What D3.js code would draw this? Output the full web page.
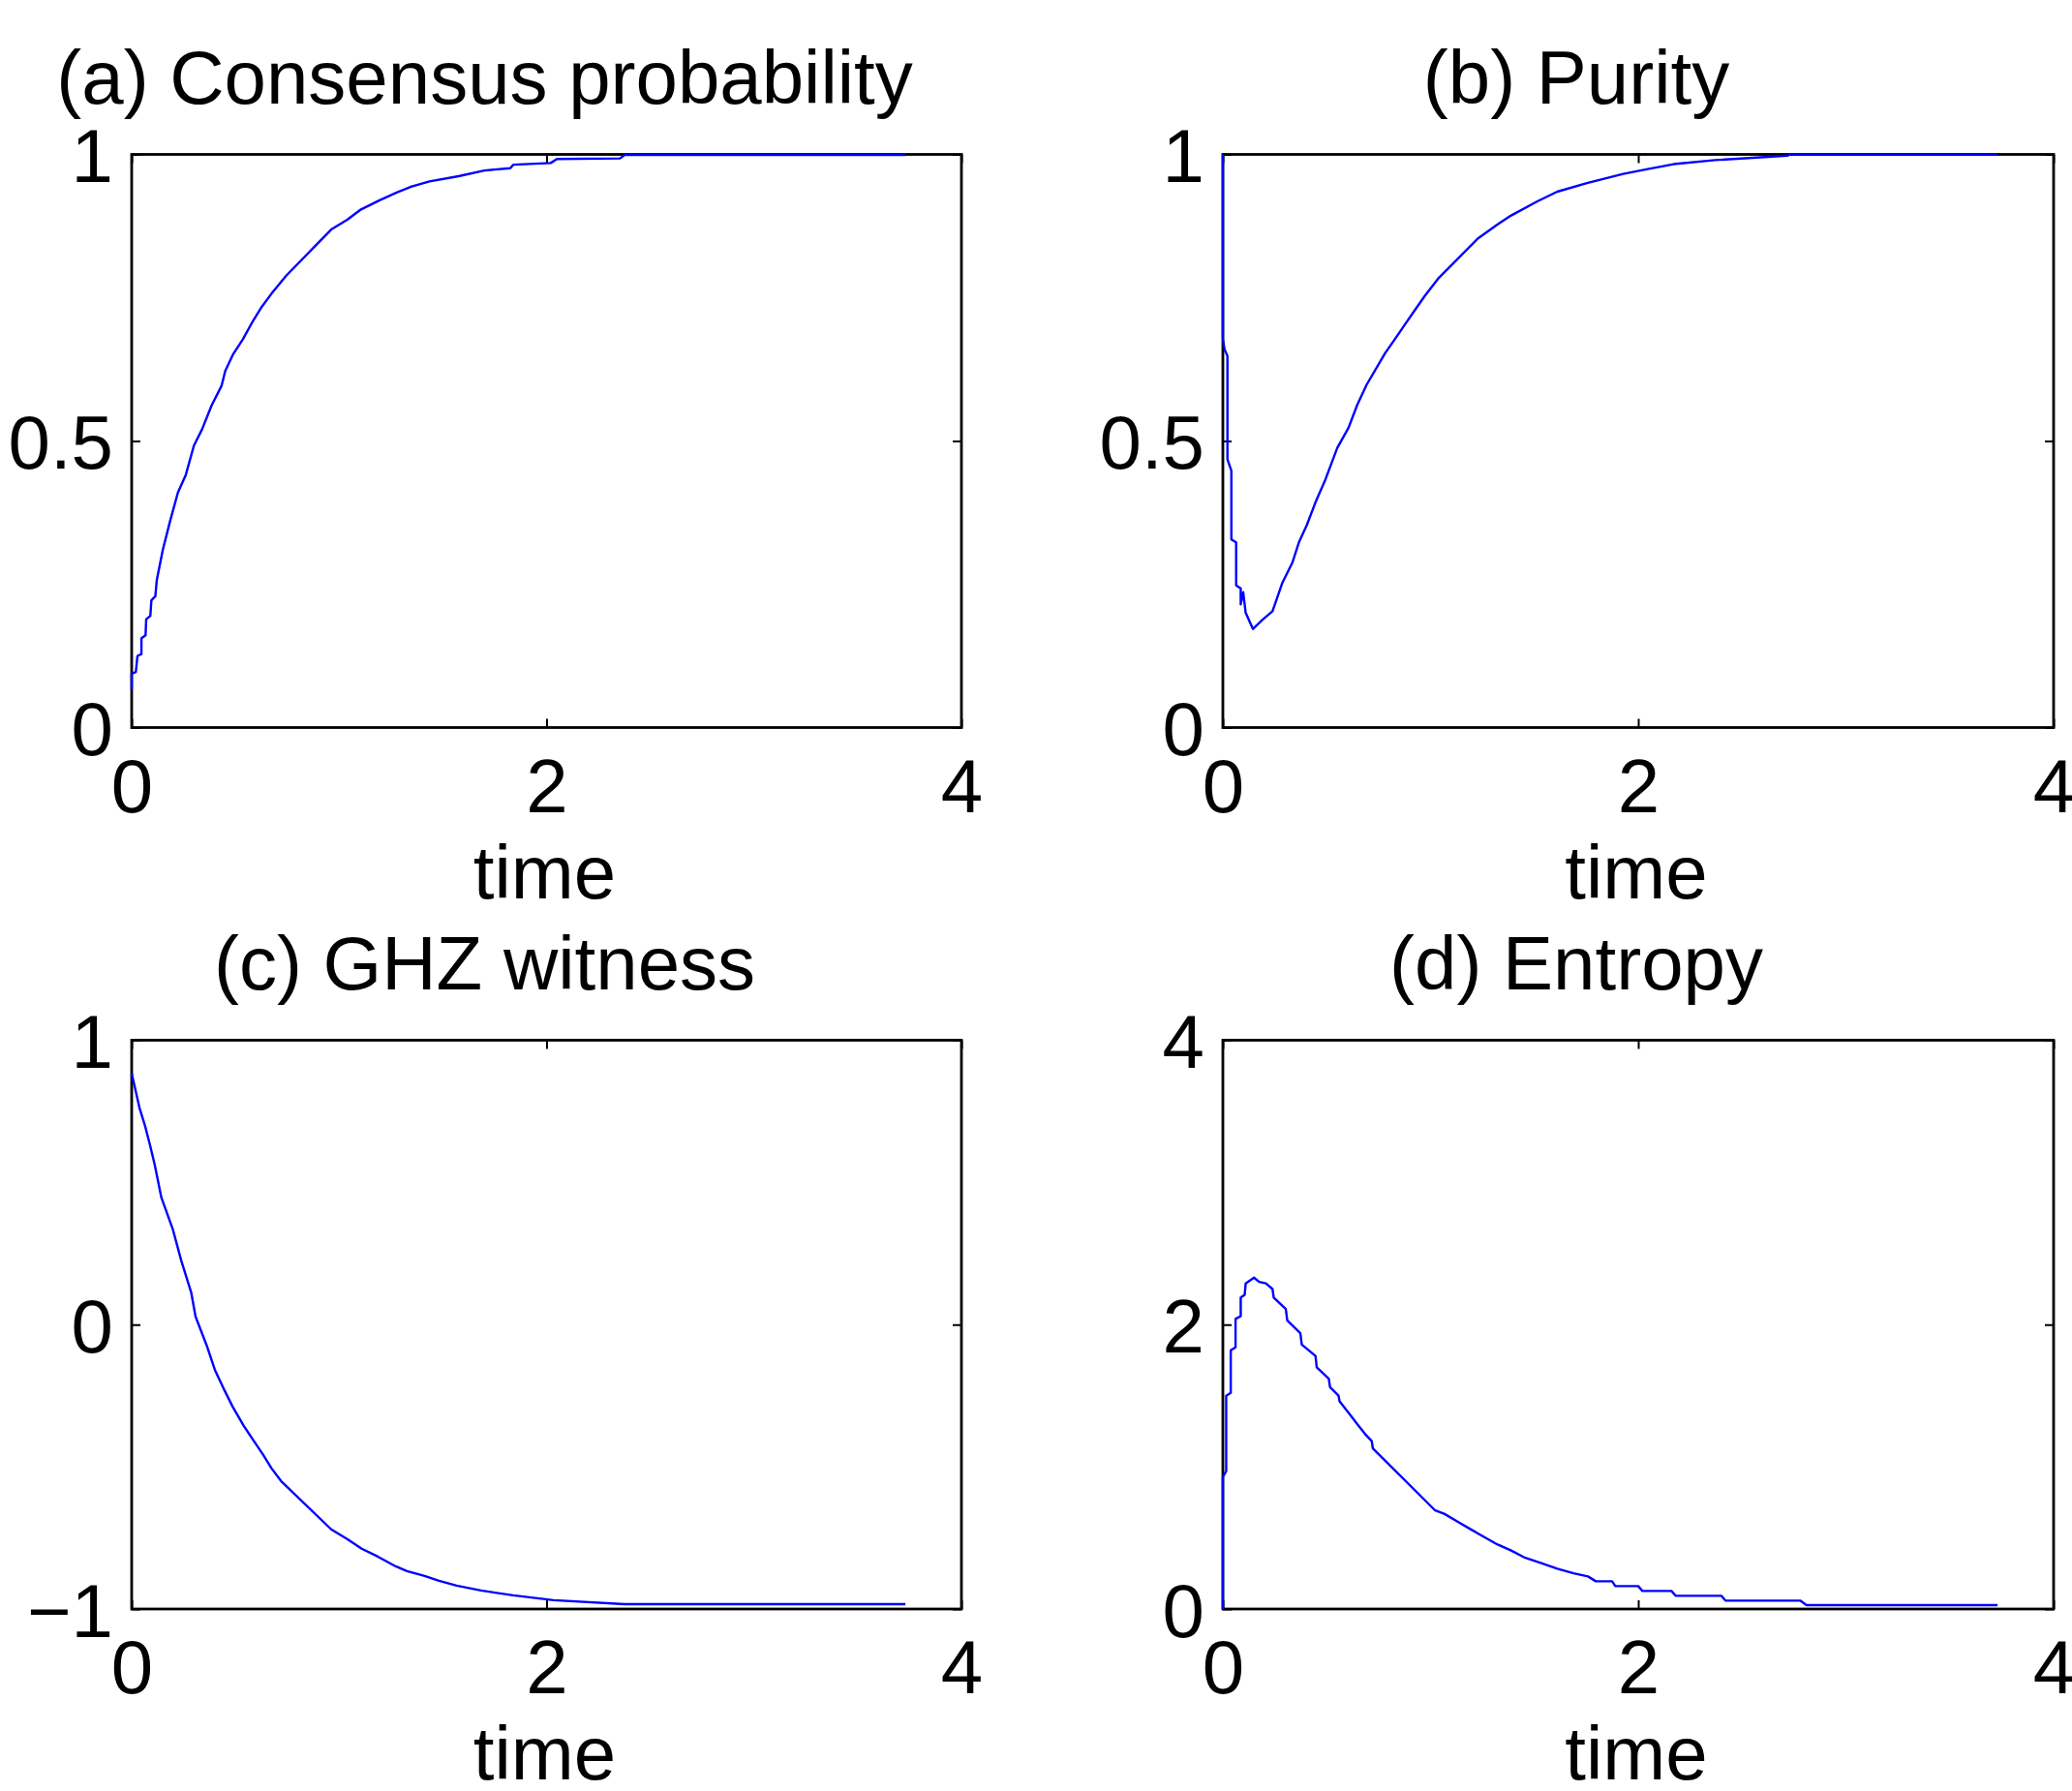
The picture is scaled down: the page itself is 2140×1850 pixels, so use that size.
<!DOCTYPE html>
<html>
<head>
<meta charset="utf-8">
<script src="https://cdn.jsdelivr.net/npm/d3@7"></script>
<style>
  html, body { margin: 0; padding: 0; background: #ffffff; }
  svg { display: block; }
  text { font-family: "Liberation Sans", Arial, Helvetica, sans-serif; fill: #000; }
</style>
</head>
<body>
<svg id="chart" width="2140" height="1850"></svg>
<script>
// ---------------- data ----------------
const titles = ["(a) Consensus probability", "(b) Purity", "(c) GHZ witness", "(d) Entropy"];
const xLabel = "time";
const xTicks = [0, 2, 4];
const xTickLabels = ["0", "2", "4"];

const yDomainA = [0, 1], yTicksA = [0, 0.5, 1], yTickLabelsA = ["0", "0.5", "1"];
const yDomainB = [0, 1], yTicksB = [0, 0.5, 1], yTickLabelsB = ["0", "0.5", "1"];
const yDomainC = [-1, 1], yTicksC = [-1, 0, 1], yTickLabelsC = ["\u22121", "0", "1"];
const yDomainD = [0, 4], yTicksD = [0, 2, 4], yTickLabelsD = ["0", "2", "4"];

// (a) consensus probability
const timeA = [0, 0, 0.02, 0.028, 0.047, 0.047, 0.067, 0.07, 0.09, 0.095, 0.114, 0.121, 0.15, 0.185, 0.223, 0.261, 0.300, 0.339, 0.386, 0.433, 0.451, 0.487, 0.537, 0.584, 0.627, 0.674, 0.744, 0.962, 1.039, 1.101, 1.195, 1.28, 1.35, 1.436, 1.576, 1.70, 1.825, 1.84, 2.02, 2.05, 2.354, 2.377, 3.731];
const valueA = [0.066, 0.094, 0.097, 0.125, 0.128, 0.156, 0.161, 0.189, 0.195, 0.222, 0.229, 0.257, 0.31, 0.36, 0.41, 0.441, 0.492, 0.520, 0.5625, 0.596, 0.622, 0.650, 0.678, 0.709, 0.734, 0.757, 0.788, 0.869, 0.886, 0.903, 0.920, 0.934, 0.944, 0.953, 0.962, 0.972, 0.976, 0.982, 0.985, 0.992, 0.993, 0.999, 0.999];

// (b) purity
const timeB = [0, 0, 0.008, 0.022, 0.022, 0.041, 0.041, 0.064, 0.064, 0.086, 0.086, 0.098, 0.11, 0.145, 0.191, 0.239, 0.287, 0.335, 0.366, 0.404, 0.446, 0.494, 0.551, 0.605, 0.647, 0.692, 0.781, 0.829, 0.876, 0.924, 0.972, 1.036, 1.227, 1.323, 1.386, 1.514, 1.61, 1.753, 1.928, 2.04, 2.17, 2.37, 2.72, 2.73, 3.73];
const valueB = [1.0, 0.678, 0.66, 0.648, 0.468, 0.448, 0.328, 0.323, 0.248, 0.243, 0.215, 0.236, 0.20, 0.172, 0.188, 0.203, 0.253, 0.288, 0.323, 0.353, 0.393, 0.433, 0.488, 0.523, 0.563, 0.598, 0.653, 0.678, 0.703, 0.728, 0.753, 0.783, 0.853, 0.878, 0.893, 0.918, 0.935, 0.95, 0.966, 0.974, 0.983, 0.99, 0.998, 1.0, 1.0];

// (c) GHZ witness
const timeC = [0, 0.016, 0.038, 0.064, 0.089, 0.112, 0.143, 0.198, 0.239, 0.287, 0.308, 0.362, 0.401, 0.448, 0.487, 0.541, 0.588, 0.635, 0.674, 0.720, 0.962, 1.039, 1.109, 1.187, 1.273, 1.327, 1.412, 1.482, 1.567, 1.684, 1.839, 2.033, 2.375, 3.73];
const valueC = [0.883, 0.832, 0.761, 0.700, 0.630, 0.559, 0.447, 0.336, 0.225, 0.113, 0.028, -0.074, -0.159, -0.232, -0.289, -0.357, -0.408, -0.459, -0.505, -0.550, -0.720, -0.754, -0.788, -0.816, -0.850, -0.867, -0.884, -0.901, -0.918, -0.935, -0.952, -0.969, -0.983, -0.983];

// (d) entropy
const timeD = [0, 0, 0.016, 0.016, 0.038, 0.038, 0.061, 0.061, 0.086, 0.086, 0.105, 0.11, 0.15, 0.175, 0.207, 0.239, 0.245, 0.303, 0.31, 0.373, 0.38, 0.446, 0.452, 0.510, 0.516, 0.557, 0.562, 0.605, 0.647, 0.685, 0.717, 0.722, 1.02, 1.068, 1.13, 1.195, 1.259, 1.323, 1.386, 1.45, 1.53, 1.61, 1.689, 1.758, 1.796, 1.874, 1.89, 2.0, 2.02, 2.16, 2.18, 2.40, 2.42, 2.78, 2.81, 3.73];
const valueD = [0.0, 0.93, 0.97, 1.50, 1.52, 1.82, 1.84, 2.04, 2.06, 2.19, 2.21, 2.29, 2.33, 2.30, 2.29, 2.25, 2.19, 2.11, 2.03, 1.94, 1.86, 1.78, 1.70, 1.62, 1.56, 1.50, 1.46, 1.38, 1.30, 1.23, 1.18, 1.13, 0.696, 0.668, 0.615, 0.559, 0.506, 0.453, 0.413, 0.364, 0.324, 0.283, 0.251, 0.229, 0.195, 0.195, 0.161, 0.161, 0.127, 0.127, 0.093, 0.093, 0.059, 0.059, 0.027, 0.027];

// ---------------- layout ----------------
const FONT = 78;
const colsX = [[136, 993], [1263, 2121]];
const rowsY = [[159.5, 751.5], [1074.5, 1662]];

const panels = [
  { title: titles[0], col: 0, row: 0, yDomain: yDomainA, yTicks: yTicksA, yLabels: yTickLabelsA, t: timeA, v: valueA },
  { title: titles[1], col: 1, row: 0, yDomain: yDomainB, yTicks: yTicksB, yLabels: yTickLabelsB, t: timeB, v: valueB },
  { title: titles[2], col: 0, row: 1, yDomain: yDomainC, yTicks: yTicksC, yLabels: yTickLabelsC, t: timeC, v: valueC },
  { title: titles[3], col: 1, row: 1, yDomain: yDomainD, yTicks: yTicksD, yLabels: yTickLabelsD, t: timeD, v: valueD }
];

const svg = d3.select("#chart");

panels.forEach(p => {
  const [x0, x1] = colsX[p.col];
  const [y0, y1] = rowsY[p.row];
  const x = d3.scaleLinear().domain([0, 4]).range([x0, x1]);
  const y = d3.scaleLinear().domain(p.yDomain).range([y1, y0]);
  const g = svg.append("g");

  // axes with inward ticks
  const fmtX = (d, i) => xTickLabels[i];
  const fmtY = (d, i) => p.yLabels[i];
  const bottom = g.append("g").attr("transform", `translate(0,${y1})`)
    .call(d3.axisBottom(x).tickValues(xTicks).tickFormat(fmtX).tickSize(-9).tickPadding(32));
  const left = g.append("g").attr("transform", `translate(${x0},0)`)
    .call(d3.axisLeft(y).tickValues(p.yTicks).tickFormat(fmtY).tickSize(-9).tickPadding(19));
  const top = g.append("g").attr("transform", `translate(0,${y0})`)
    .call(d3.axisTop(x).tickValues(xTicks).tickFormat("").tickSize(-9));
  const right = g.append("g").attr("transform", `translate(${x1},0)`)
    .call(d3.axisRight(y).tickValues(p.yTicks).tickFormat("").tickSize(-9));

  [bottom, left, top, right].forEach(a => {
    a.select(".domain").remove();
    a.selectAll(".tick line").attr("stroke", "#000").attr("stroke-width", 2);
    a.selectAll("text")
      .style("font-family", '"Liberation Sans", Arial, Helvetica, sans-serif')
      .style("font-size", FONT + "px")
      .attr("fill", "#000");
  });
  left.selectAll("text").attr("dy", "0.365em");

  // box
  g.append("rect")
    .attr("x", x0).attr("y", y0)
    .attr("width", x1 - x0).attr("height", y1 - y0)
    .attr("fill", "none").attr("stroke", "#000").attr("stroke-width", 2.8);

  // curve (drawn over the box, as in the reference)
  const pts = p.t.map((t, i) => [t, p.v[i]]);
  g.append("path")
    .datum(pts)
    .attr("fill", "none")
    .attr("stroke", "#0000ff")
    .attr("stroke-width", 2.4)
    .attr("stroke-linejoin", "round")
    .attr("d", d3.line().x(d => x(d[0])).y(d => y(d[1])));

  // title
  g.append("text")
    .attr("x", (x0 + x1) / 2 - 64)
    .attr("y", y0 - 52.5)
    .attr("text-anchor", "middle")
    .style("font-size", FONT + "px")
    .text(p.title);

  // x label
  g.append("text")
    .attr("x", (x0 + x1) / 2 - 2)
    .attr("y", y1 + 176)
    .attr("text-anchor", "middle")
    .style("font-size", FONT + "px")
    .text(xLabel);
});
</script>
</body>
</html>
